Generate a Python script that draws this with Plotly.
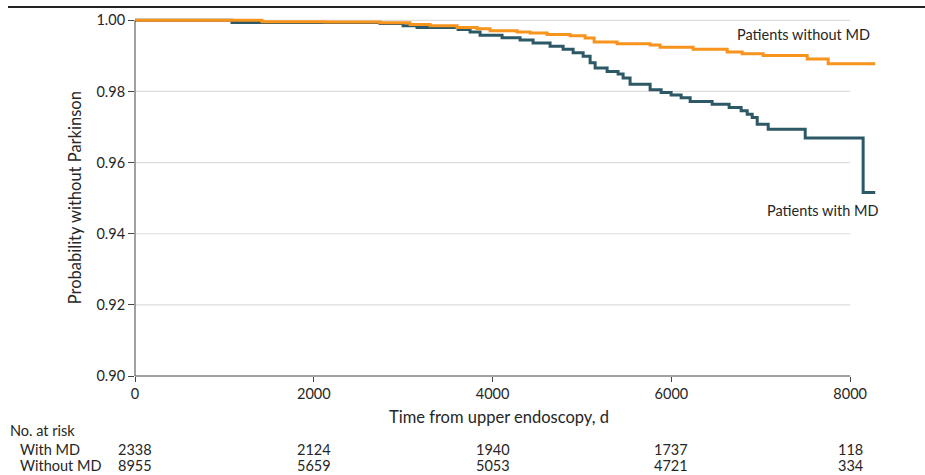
import plotly.graph_objects as go

# ---- data ----
days_without_md = [0, 1421, 2126, 2741, 3077, 3301, 3603, 3827, 3972, 4274, 4420, 4610, 4867,
                   5035, 5136, 5393, 5762, 5874, 6243, 6624, 6792, 7027, 7519, 7754, 8280]
surv_without_md = [1.0, 0.9996, 0.9995, 0.9993, 0.9988, 0.9985, 0.9980, 0.9976, 0.9971, 0.9967,
                   0.99645, 0.9960, 0.9957, 0.99505, 0.9939, 0.9934, 0.9931, 0.9924, 0.9919,
                   0.9911, 0.9906, 0.9901, 0.9891, 0.9878, 0.9878]

days_with_md = [0, 1085, 2741, 2999, 3155, 3614, 3748, 3860, 4106, 4308, 4453, 4643, 4789,
                4901, 5013, 5091, 5147, 5281, 5404, 5460, 5538, 5762, 5885, 5997, 6109,
                6210, 6456, 6646, 6780, 6848, 6904, 6960, 7083, 7497, 8145, 8280]
surv_with_md = [1.0, 0.9994, 0.9991, 0.9985, 0.9980, 0.9974, 0.9967, 0.9958, 0.9951, 0.9945,
                0.9936, 0.9927, 0.9919, 0.9909, 0.9899, 0.9881, 0.9866, 0.9856, 0.9849,
                0.9838, 0.9820, 0.9805, 0.9797, 0.9790, 0.9782, 0.9772, 0.9764, 0.9755,
                0.9746, 0.9736, 0.9727, 0.9708, 0.9694, 0.9669, 0.9516, 0.9516]

x_ticks = [0, 2000, 4000, 6000, 8000]
y_ticks = [0.90, 0.92, 0.94, 0.96, 0.98, 1.00]
at_risk_with_md = [2338, 2124, 1940, 1737, 118]
at_risk_without_md = [8955, 5659, 5053, 4721, 334]

# ---- style ----
FONT = "Lato"
TXT = "#262626"
ORANGE = "#F7941D"
TEAL = "#2D5866"
GRID = "#DCDCDC"
AXIS = "#444444"

fig = go.Figure()
fig.add_trace(go.Scatter(x=days_with_md, y=surv_with_md, mode="lines",
                         line=dict(color=TEAL, width=3, shape="hv"),
                         name="Patients with MD", showlegend=False, hoverinfo="skip"))
fig.add_trace(go.Scatter(x=days_without_md, y=surv_without_md, mode="lines",
                         line=dict(color=ORANGE, width=3, shape="hv"),
                         name="Patients without MD", showlegend=False, hoverinfo="skip"))

shapes = []
# gridlines (limited to 0..8000)
for yv in y_ticks[1:]:
    shapes.append(dict(type="line", xref="x", yref="y", x0=0, x1=x_ticks[-1], y0=yv, y1=yv,
                       line=dict(color=GRID, width=1.2), layer="below"))
# axis lines
shapes.append(dict(type="line", xref="x domain", yref="y", x0=0, x1=0,
                   y0=y_ticks[0], y1=y_ticks[-1], line=dict(color=AXIS, width=1)))
shapes.append(dict(type="line", xref="x", yref="y domain", x0=0, x1=x_ticks[-1],
                   y0=0, y1=0, line=dict(color=AXIS, width=1)))
# header rule
plot_w = 925 - 135 - 48
plot_h = 475 - 15 - 99
shapes.append(dict(type="line", xref="paper", yref="paper",
                   x0=(8 - 135) / plot_w, x1=(925 - 135) / plot_w,
                   y0=(376 - 7) / plot_h, y1=(376 - 7) / plot_h,
                   line=dict(color="#222222", width=2)))

ann = []
ann.append(dict(text="Patients without MD", x=7474, y=0.99598, xref="x", yref="y",
                showarrow=False, xanchor="center", yanchor="middle",
                font=dict(family=FONT, size=14.5, color=TXT)))
ann.append(dict(text="Patients with MD", x=7692, y=0.94644, xref="x", yref="y",
                showarrow=False, xanchor="center", yanchor="middle",
                font=dict(family=FONT, size=14.5, color=TXT)))
# axis titles
ann.append(dict(text="Probability without Parkinson", x=0, y=0.95, xref="paper", yref="y",
                xshift=-60, textangle=-90, showarrow=False, xanchor="center", yanchor="middle",
                font=dict(family=FONT, size=16.5, color=TXT)))
ann.append(dict(text="Time from upper endoscopy, d", x=(499 - 135) / 0.089375, y=0,
                xref="x", yref="paper", yshift=-41, showarrow=False,
                xanchor="center", yanchor="middle",
                font=dict(family=FONT, size=16.5, color=TXT)))
# number at risk table
ann.append(dict(text="No. at risk", x=0, y=0, xref="paper", yref="paper", xshift=-127,
                yshift=-54, showarrow=False, xanchor="left", yanchor="middle",
                font=dict(family=FONT, size=14.5, color=TXT)))
ann.append(dict(text="With MD", x=0, y=0, xref="paper", yref="paper", xshift=-117,
                yshift=-73, showarrow=False, xanchor="left", yanchor="middle",
                font=dict(family=FONT, size=14.5, color=TXT)))
ann.append(dict(text="Without MD", x=0, y=0, xref="paper", yref="paper", xshift=-117,
                yshift=-89, showarrow=False, xanchor="left", yanchor="middle",
                font=dict(family=FONT, size=14.5, color=TXT)))
for xv, n1, n2 in zip(x_ticks, at_risk_with_md, at_risk_without_md):
    ann.append(dict(text=str(n1), x=xv, y=0, xref="x", yref="paper", yshift=-73,
                    showarrow=False, xanchor="center", yanchor="middle",
                    font=dict(family=FONT, size=14.5, color=TXT)))
    ann.append(dict(text=str(n2), x=xv, y=0, xref="x", yref="paper", yshift=-89,
                    showarrow=False, xanchor="center", yanchor="middle",
                    font=dict(family=FONT, size=14.5, color=TXT)))

fig.update_layout(
    width=925, height=475,
    margin=dict(l=135, r=48, t=15, b=99),
    paper_bgcolor="white", plot_bgcolor="white",
    font=dict(family=FONT, size=14, color=TXT),
    shapes=shapes, annotations=ann,
    xaxis=dict(range=[0, 8300], tickvals=x_ticks, ticktext=[str(v) for v in x_ticks],
               showgrid=False, zeroline=False, showline=False,
               ticks="outside", ticklen=5, tickcolor=AXIS, tickwidth=1,
               tickfont=dict(family=FONT, size=14.5, color=TXT)),
    yaxis=dict(range=[0.90, 1.0015], tickvals=y_ticks,
               ticktext=[f"{v:.2f}" for v in y_ticks],
               showgrid=False, zeroline=False, showline=False,
               ticks="outside", ticklen=6, tickcolor=AXIS, tickwidth=1,
               tickfont=dict(family=FONT, size=14.5, color=TXT)),
)

fig.write_html("out.html", config={"displayModeBar": False},
               post_script="document.body.style.margin='0';document.body.style.padding='0';")
